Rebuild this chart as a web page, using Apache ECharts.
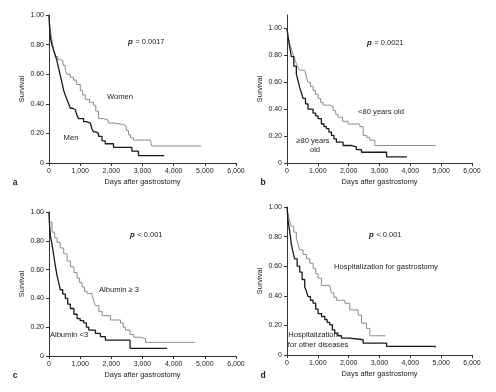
<!DOCTYPE html>
<html><head><meta charset="utf-8">
<script src="https://cdn.jsdelivr.net/npm/echarts@6/dist/echarts.min.js"></script>
<style>html,body{margin:0;padding:0;background:#fff}#c{width:496px;height:392px}</style>
</head><body><div id="c"></div>
<script>
// Panel a: sex
const womenT = [0,20,43,80,120,160,200,280,360,450,520,577,680,790,880,1004,1080,1165,1300,1430,1500,1590,1750,1900,2070,2390,2480,2550,2620,2710,3250,3300,4880];
const womenS = [1,0.95,0.90,0.85,0.80,0.76,0.72,0.70,0.69,0.66,0.63,0.60,0.58,0.56,0.53,0.49,0.46,0.43,0.41,0.39,0.35,0.30,0.29,0.27,0.26,0.25,0.22,0.19,0.17,0.155,0.145,0.115,0.115];
const menT = [0,15,43,90,150,200,256,310,363,420,470,520,577,630,684,760,844,900,951,1111,1200,1325,1380,1430,1500,1590,1700,1805,2070,2660,2870,3700];
const menS = [1,0.93,0.85,0.80,0.76,0.73,0.69,0.64,0.59,0.54,0.49,0.46,0.43,0.40,0.37,0.36,0.35,0.32,0.30,0.28,0.27,0.26,0.23,0.21,0.20,0.18,0.15,0.13,0.105,0.08,0.05,0.05];
// Panel b: age
const youngT = [0,40,87,140,195,250,303,360,412,574,630,682,760,845,920,1008,1090,1170,1387,1495,1580,1658,1800,1983,2362,2470,2580,2687,2850,4820];
const youngS = [1,0.93,0.886,0.85,0.81,0.77,0.74,0.71,0.69,0.68,0.64,0.60,0.57,0.54,0.51,0.48,0.45,0.43,0.42,0.39,0.36,0.34,0.31,0.29,0.27,0.205,0.19,0.17,0.13,0.13];
const oldT = [0,33,80,141,220,303,360,412,470,520,600,682,845,930,1008,1116,1200,1278,1360,1441,1520,1603,1820,2090,2250,2416,3230,3890];
const oldS = [1,0.94,0.87,0.79,0.72,0.66,0.61,0.56,0.52,0.48,0.44,0.40,0.37,0.35,0.33,0.29,0.27,0.255,0.23,0.205,0.18,0.155,0.13,0.12,0.10,0.08,0.045,0.045];
// Panel c: albumin
const albHiT = [0,21,96,180,257,360,472,580,686,800,900,980,1061,1140,1222,1383,1440,1490,1600,1704,1972,2294,2380,2454,2600,2722,2937,3097,4680];
const albHiS = [1,0.93,0.86,0.82,0.79,0.75,0.71,0.66,0.62,0.58,0.54,0.51,0.48,0.45,0.435,0.42,0.38,0.35,0.31,0.28,0.25,0.23,0.20,0.18,0.15,0.13,0.12,0.095,0.095];
const albLoT = [0,15,43,100,150,200,257,310,364,440,525,600,686,800,900,1000,1115,1200,1275,1490,1650,1811,2600,3790];
const albLoS = [1,0.92,0.84,0.77,0.70,0.63,0.56,0.51,0.46,0.43,0.40,0.36,0.33,0.29,0.26,0.245,0.23,0.20,0.18,0.157,0.134,0.11,0.053,0.053];
// Panel d: reason for hospitalization
const gastT = [0,33,80,141,220,303,360,412,520,628,740,845,930,1008,1116,1387,1441,1520,1603,1874,2037,2308,2416,2579,2687,3195];
const gastS = [1,0.955,0.91,0.87,0.83,0.79,0.75,0.71,0.68,0.65,0.62,0.585,0.55,0.52,0.47,0.465,0.42,0.39,0.37,0.35,0.305,0.27,0.215,0.18,0.13,0.13];
const otherT = [0,33,90,141,190,249,330,412,490,574,630,682,760,845,930,1008,1120,1224,1300,1387,1470,1549,1650,1766,2037,2470,3229,4810];
const otherS = [1,0.91,0.83,0.75,0.70,0.65,0.60,0.56,0.51,0.46,0.43,0.395,0.37,0.35,0.31,0.28,0.26,0.24,0.22,0.205,0.17,0.148,0.13,0.114,0.103,0.08,0.058,0.05];

const xTicks = [0,1000,2000,3000,4000,5000,6000];
const yTicks = [0,0.2,0.4,0.6,0.8,1.0];

const FONT = 'Liberation Sans';
const TXT = '#222';
const pair = (t,s) => t.map((v,i)=>[v,s[i]]);

const grids = [
  {left:49, top:15, width:187, height:148},
  {left:287, top:15, width:185, height:148},
  {left:49, top:212, width:187, height:144},
  {left:287, top:207, width:185, height:148}
];
const yMax = [1, 1.1, 1, 1];

const xAxes = grids.map((g,i)=>({
  type:'value', gridIndex:i, min:xTicks[0], max:xTicks[xTicks.length-1], interval:1000,
  name:'Days after gastrostomy', nameLocation:'middle', nameGap:15,
  nameTextStyle:{fontFamily:FONT, fontSize:7.4, color:TXT},
  axisLine:{lineStyle:{color:'#333', width:1}},
  axisTick:{show:true, length:3, lineStyle:{color:'#333'}},
  axisLabel:{fontFamily:FONT, fontSize:7, color:TXT, margin:5,
    formatter:v=>v.toLocaleString('en-US')},
  splitLine:{show:false}
}));
const yAxes = grids.map((g,i)=>({
  type:'value', gridIndex:i, min:yTicks[0], max:yMax[i], interval:0.2,
  name:'Survival', nameLocation:'middle', nameGap:24, nameRotate:90,
  nameTextStyle:{fontFamily:FONT, fontSize:7.4, color:TXT},
  axisLine:{show:true, lineStyle:{color:'#333', width:1}},
  axisTick:{show:true, length:3, lineStyle:{color:'#333'}},
  axisLabel:{fontFamily:FONT, fontSize:7, color:TXT, margin:5,
    showMaxLabel: yMax[i] === 1,
    formatter:v=> v>1.0001 ? '' : (v===0 ? '0' : v.toFixed(2))},
  splitLine:{show:false}
}));

function km(t,s,idx,color,w){
  return {type:'line', step:'end', xAxisIndex:idx, yAxisIndex:idx, data:pair(t,s),
    showSymbol:false, symbol:'none', lineStyle:{color:color, width:w}, silent:true, animation:false};
}
const GRAY = '#8c8c8c', BLACK = '#1a1a1a';
const series = [
  km(womenT,womenS,0,GRAY,1), km(menT,menS,0,BLACK,1.3),
  km(youngT,youngS,1,GRAY,1), km(oldT,oldS,1,BLACK,1.3),
  km(albHiT,albHiS,2,GRAY,1), km(albLoT,albLoS,2,BLACK,1.3),
  km(gastT,gastS,3,GRAY,1), km(otherT,otherS,3,BLACK,1.3)
];

function txt(x,y,text,opts){
  return {type:'text', x:x, y:y, style:Object.assign({text:text, fill:TXT,
    font:'7.6px "'+FONT+'"', textAlign:'center', textVerticalAlign:'middle'}, opts||{})};
}
function ptxt(x,y,rest){
  return {type:'group', children:[
    {type:'text', x:x, y:y, style:{text:'p', fill:TXT, font:'italic bold 7.8px "'+FONT+'"', textAlign:'left', textVerticalAlign:'middle'}},
    {type:'text', x:x+7.5, y:y, style:{text:rest, fill:TXT, font:'7.4px "'+FONT+'"', textAlign:'left', textVerticalAlign:'middle'}}
  ]};
}
const bold = {font:'bold 8.5px "'+FONT+'"'};
const graphic = [
  txt(15,183,'a',bold), txt(263,183,'b',bold), txt(15,376,'c',bold), txt(263,376,'d',bold),
  ptxt(128,42,'= 0.0017'), ptxt(367,43,'= 0.0021'), ptxt(130,235,'< 0.001'), ptxt(369,235,'< 0.001'),
  txt(120,97,'Women'), txt(71,138,'Men'),
  txt(381,112,'<80 years old'), txt(313,141,'≥80 years'), txt(315,150,'old'),
  txt(119,290,'Albumin ≥ 3'), txt(69,335,'Albumin <3'),
  txt(386,267,'Hospitalization for gastrostomy'), txt(313,335,'Hospitalization'), txt(318,345,'for other diseases')
];

const chart = echarts.init(document.getElementById('c'), null, {renderer:'canvas'});
chart.setOption({animation:false, backgroundColor:'#fff', grid:grids, xAxis:xAxes, yAxis:yAxes, series:series, graphic:graphic});
</script></body></html>
